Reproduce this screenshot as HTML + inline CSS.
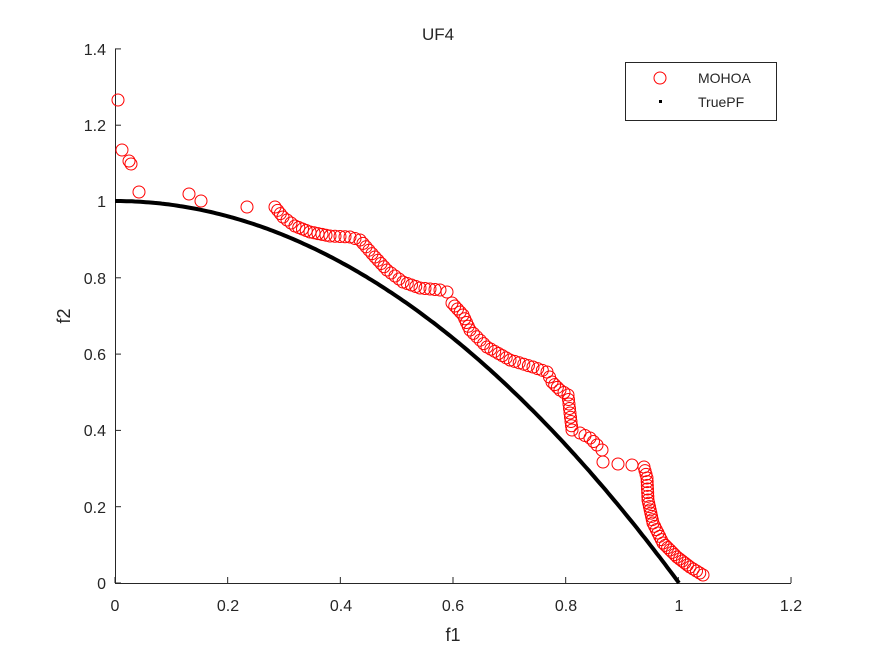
<!DOCTYPE html>
<html><head><meta charset="utf-8"><style>body{margin:0;background:#fff}svg{display:block}text{font-family:"Liberation Sans",sans-serif;fill:#262626}</style></head>
<body><svg id="s" width="875" height="656" xmlns="http://www.w3.org/2000/svg">
<rect width="875" height="656" fill="#fff"/>
<text x="438" y="40" font-size="17" text-anchor="middle">UF4</text>
<g stroke="#262626" stroke-width="1" fill="none">
<line x1="115.5" y1="49" x2="115.5" y2="583.5"/>
<line x1="115" y1="583.5" x2="791" y2="583.5"/>
</g>
<g id="ticks" stroke="#262626" stroke-width="1"></g>
<g font-size="16" text-anchor="middle">
<text x="115" y="611">0</text><text x="228" y="611">0.2</text><text x="341" y="611">0.4</text><text x="453" y="611">0.6</text><text x="566" y="611">0.8</text><text x="679" y="611">1</text><text x="791" y="611">1.2</text>
</g>
<g font-size="16" text-anchor="end">
<text x="106" y="589">0</text><text x="106" y="513">0.2</text><text x="106" y="436">0.4</text><text x="106" y="360">0.6</text><text x="106" y="284">0.8</text><text x="106" y="207">1</text><text x="106" y="131">1.2</text><text x="106" y="55">1.4</text>
</g>
<text x="453" y="641" font-size="18" text-anchor="middle">f1</text>
<text x="70" y="316" font-size="18" text-anchor="middle" transform="rotate(-90 70 316)">f2</text>
<path id="pf" fill="none" stroke="#000" stroke-width="4"/>
<g id="c" fill="none" stroke="#f00" stroke-width="1"></g>
<rect x="625.5" y="62.5" width="151" height="58" fill="#fff" stroke="#262626"/>
<circle cx="660" cy="78" r="6" fill="none" stroke="#f00"/>
<rect x="659" y="100" width="3" height="3" fill="#000"/>
<text x="698" y="83" font-size="14">MOHOA</text>
<text x="698" y="107" font-size="14">TruePF</text>
</svg>
<script>
var NS="http://www.w3.org/2000/svg",t=document.getElementById("ticks");
function ln(a,b,c,d){var l=document.createElementNS(NS,"line");l.setAttribute("x1",a);l.setAttribute("y1",b);l.setAttribute("x2",c);l.setAttribute("y2",d);t.appendChild(l);}
for(var i=0;i<=6;i++){var x=115+i*112.67;ln(x,583,x,577);}
for(var i=0;i<=7;i++){var y=583-i*76.3;ln(115,y,121,y);}
var d="";for(var i=0;i<=200;i++){var f=i/200;var x=115+f*564,y=583-(1-f*f)*382;d+=(i?"L":"M")+x.toFixed(1)+","+y.toFixed(1);}
document.getElementById("pf").setAttribute("d",d);
var g=document.getElementById("c");
function c(x,y){var e=document.createElementNS(NS,"circle");e.setAttribute("cx",x);e.setAttribute("cy",y);e.setAttribute("r",6);g.appendChild(e);}
[[118,100],[122,150],[129,161],[131,164],[139,192],[189,194],[201,201],[247,207]].forEach(function(p){c(p[0],p[1]);});
var A=[[275,207],[283,217],[295,226],[310,232],[330,236],[350,237],[360,240],[375,257],[387,270],[403,282],[420,288],[440,290]];
var B=[[452,303],[463,315],[470,330],[487,347],[510,360],[533,367],[547,372],[552,382],[560,390],[568,395],[570,413],[572,430]];
var C=[[580,433],[590,438],[597,445],[602,450]];
var D=[[644,467],[647,478],[648,500],[653,523],[663,543],[677,557],[690,567],[703,575]];
function run(P,s){for(var k=0;k<P.length-1;k++){var a=P[k],b=P[k+1],L=Math.hypot(b[0]-a[0],b[1]-a[1]),n=Math.max(1,Math.round(L/s));for(var j=0;j<n;j++){c(a[0]+(b[0]-a[0])*j/n,a[1]+(b[1]-a[1])*j/n);}}var z=P[P.length-1];c(z[0],z[1]);}
run(A,4.5);c(447,292);run(B,4.5);run(C,5);c(603,462);c(618,464);c(632,465);run(D,3.5);
</script>
</body></html>
